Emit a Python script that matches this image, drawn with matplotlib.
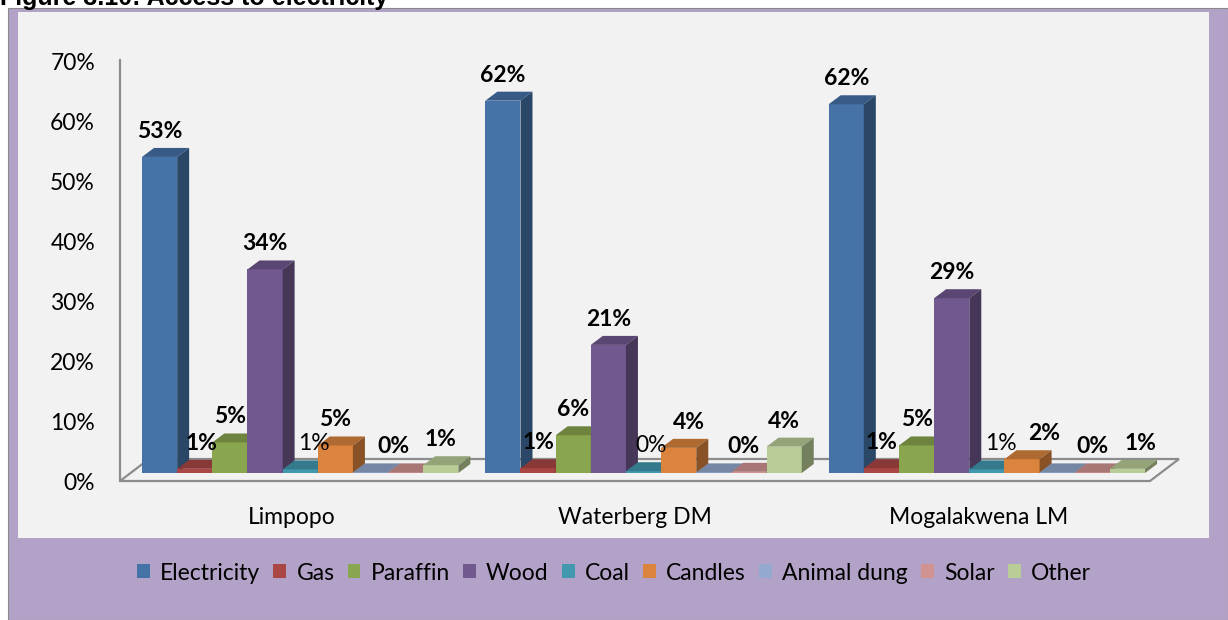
import matplotlib.pyplot as plt
from matplotlib.patches import Polygon, Rectangle, Patch
from matplotlib.colors import to_rgb

plt.rcParams['font.family'] = ['Lato', 'DejaVu Sans']

regions = ['Limpopo', 'Waterberg DM', 'Mogalakwena LM']
sources = ['Electricity', 'Gas', 'Paraffin', 'Wood', 'Coal', 'Candles',
           'Animal dung', 'Solar', 'Other']

# share of households (%) by energy source for lighting
limpopo = [52.8, 0.7, 5.1, 34.0, 0.6, 4.6, 0.1, 0.1, 1.3]
waterberg = [62.2, 0.8, 6.3, 21.4, 0.3, 4.2, 0.1, 0.2, 4.4]
mogalakwena = [61.6, 0.8, 4.6, 29.2, 0.6, 2.3, 0.1, 0.1, 0.7]
data = [limpopo, waterberg, mogalakwena]

yticks = [0, 10, 20, 30, 40, 50, 60, 70]

colors = ['#4572a7', '#aa4643', '#89a54e', '#71588f', '#4198af',
          '#db843d', '#93a9cf', '#d19392', '#b9cd96']

# coal labels are plain, animal dung has none
plain_labels = ['Coal']
hidden_labels = ['Animal dung']
# labels nudged sideways so they don't collide (pixels)
label_nudge = {
    ('Limpopo', 'Gas'): 7, ('Limpopo', 'Coal'): 14, ('Limpopo', 'Solar'): -12,
    ('Waterberg DM', 'Coal'): 8, ('Waterberg DM', 'Candles'): 10,
    ('Waterberg DM', 'Solar'): -6,
    ('Mogalakwena LM', 'Coal'): 14, ('Mogalakwena LM', 'Candles'): 22,
    ('Mogalakwena LM', 'Other'): 13,
}

W_PX, H_PX = 1228, 620
fig = plt.figure(figsize=(W_PX / 100, H_PX / 100), dpi=100, facecolor='white')

def fx(px):
    return px / W_PX

def fy(py):
    return 1 - py / H_PX

# purple frame + light grey chart area
fig.patches.append(Rectangle((fx(8), 0), 1 - fx(8), fy(8), transform=fig.transFigure,
                             facecolor='#b3a2c7', edgecolor='#8a8a8a', lw=0.8, zorder=-2))
fig.patches.append(Rectangle((fx(18), fy(538)), fx(1209) - fx(18), fy(12) - fy(538),
                             transform=fig.transFigure, facecolor='#f2f2f2',
                             edgecolor='none', zorder=-1))

fig.text(0.0, fy(5), 'Figure 3.10: Access to electricity', fontsize=18, fontweight='bold',
         family='Liberation Sans', va='baseline', ha='left')

# plot area: x in category units, y in percent
px_per_unit = 343.3
px_per_pct = 5.986
ax = fig.add_axes([fx(120), fy(481), fx(1150) - fx(120), fy(60) - fy(481)])
ax.set_facecolor('none')
ax.set_xlim(0, 3)
ax.set_ylim(0, (481 - 60) / px_per_pct)

bw = 35.15 / px_per_unit
start = 22 / px_per_unit
base = 8 / px_per_pct
ddx = 12 / px_per_unit
ddy = 9 / px_per_pct
floor_dx = 29 / px_per_unit
floor_dy = 22 / px_per_pct

def shade(c, f):
    return tuple(v * f for v in to_rgb(c))

floor = Polygon([(0, 0), (3, 0), (3 + floor_dx, floor_dy), (floor_dx, floor_dy)],
                closed=True, fill=False, edgecolor='#8c8c8c', lw=1.6, clip_on=False, zorder=1)
ax.add_patch(floor)

for g, vals in enumerate(data):
    for i, v in enumerate(vals):
        x0 = g + start + i * bw
        z = 3 + i
        c = colors[i]
        ax.bar(x0, v, width=bw, bottom=base, align='edge', color=c, linewidth=0, zorder=z)
        top = base + v
        # top and right-hand faces of the block
        ax.add_patch(Polygon([(x0, top), (x0 + bw, top), (x0 + bw + ddx, top + ddy),
                              (x0 + ddx, top + ddy)], closed=True, facecolor=shade(c, 0.8),
                             edgecolor='none', zorder=z, clip_on=False))
        ax.add_patch(Polygon([(x0 + bw, base), (x0 + bw + ddx, base + ddy),
                              (x0 + bw + ddx, top + ddy), (x0 + bw, top)], closed=True,
                             facecolor=shade(c, 0.62), edgecolor='none', zorder=z, clip_on=False))
        src = sources[i]
        if src in hidden_labels:
            continue
        nudge = label_nudge.get((regions[g], src), 0) * 0.72
        ax.annotate(f'{v:.0f}%', xy=(x0 + bw / 2, top + ddy), xytext=(nudge, 7.2),
                    textcoords='offset points', ha='center', va='baseline',
                    fontsize=16.5, fontweight='normal' if src in plain_labels else 'bold',
                    zorder=30, annotation_clip=False)

for side in ['top', 'right', 'bottom']:
    ax.spines[side].set_visible(False)
ax.spines['left'].set_color('#8c8c8c')
ax.spines['left'].set_linewidth(1.6)

ax.set_yticks(yticks)
ax.set_yticklabels([f'{t}%' for t in yticks])
ax.set_xticks([0.5, 1.5, 2.5])
ax.set_xticklabels(regions)
ax.tick_params(axis='y', length=0, pad=18, labelsize=16.5)
ax.tick_params(axis='x', length=0, pad=19, labelsize=16.5)

handles = [Patch(facecolor=c, edgecolor='none') for c in colors]
fig.legend(handles, sources, loc='center', bbox_to_anchor=(fx(614), fy(573)), ncol=9,
           frameon=False, fontsize=16.5, handlelength=0.55, handleheight=0.55,
           handletextpad=0.45, columnspacing=0.58, borderaxespad=0)

fig.savefig('out.png', dpi=100)
